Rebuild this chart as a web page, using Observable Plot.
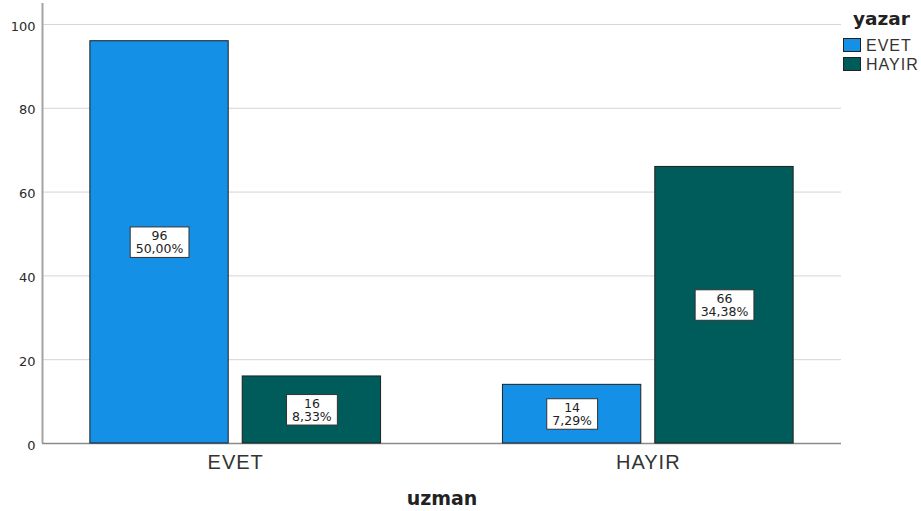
<!DOCTYPE html>
<html><head><meta charset="utf-8">
<script src="https://cdn.jsdelivr.net/npm/d3@7"></script>
<script src="https://cdn.jsdelivr.net/npm/@observablehq/plot@0.6"></script>
<style>
body{margin:0;background:#fff}
#chart{position:relative;width:921px;height:511px;overflow:hidden;background:#fff}
#chart svg{position:absolute;left:0;top:0}
</style></head><body><div id="chart"></div>
<script>
// ---- data ----
const uzman = ["EVET", "HAYIR"];            // x categories
const yazar = ["EVET", "HAYIR"];            // series
const yazarEvetCounts = [96, 14];           // yazar = EVET, per uzman
const yazarHayirCounts = [16, 66];          // yazar = HAYIR, per uzman
const yTicks = [0, 20, 40, 60, 80, 100];
const colors = ["#1490E6", "#005C5A"];

const data = uzman.flatMap((u, i) => [
  {uzman: u, yazar: yazar[0], count: yazarEvetCounts[i]},
  {uzman: u, yazar: yazar[1], count: yazarHayirCounts[i]}
]);
const total = d3.sum(data, d => d.count);
const pct = d => (d.count / total * 100).toFixed(2).replace(".", ",") + "%";

const W = 921, H = 511;
const M = {top: 3, right: 80, bottom: 68, left: 42};
const yDomain = [0, 105];
const chart = document.getElementById("chart");

// ---- base layer: grid, y axis, axis lines, x title ----
const base = Plot.plot({
  width: W, height: H,
  marginTop: M.top, marginRight: M.right, marginBottom: M.bottom, marginLeft: M.left,
  style: {background: "transparent", overflow: "visible"},
  x: {domain: [0, 1], axis: null},
  y: {domain: yDomain, axis: null},
  marks: [
    Plot.gridY(yTicks, {stroke: "#d4d4d4", strokeOpacity: 1, strokeWidth: 1}),
    Plot.axisY(yTicks, {tickSize: 0, tickPadding: 7, fontSize: 13, fontFamily: "DejaVu Sans", fill: "#2a2a2a", dy: 2, label: null}),
    Plot.ruleX([0], {stroke: "#a3a3a3", strokeWidth: 2}),
    Plot.ruleY([0], {stroke: "#8a8a8a", strokeWidth: 1.5}),
    Plot.text(["uzman"], {frameAnchor: "bottom", lineAnchor: "bottom", dy: 61, fontSize: 19, fontWeight: "bold", fontFamily: "DejaVu Sans", fill: "#222"})
  ]
});
chart.appendChild(base);

// ---- overlay: grouped bars via facets ----
const over = Plot.plot({
  width: W, height: H,
  marginTop: M.top, marginRight: M.right, marginBottom: M.bottom, marginLeft: M.left,
  style: {background: "transparent", overflow: "visible", fontFamily: "Liberation Sans, Arial, sans-serif", fontSize: "20px", color: "#333"},
  fx: {domain: uzman, paddingInner: 0.2954, paddingOuter: 0.116, round: false, axis: "bottom", tickSize: 0, tickPadding: 11, label: null},
  x: {domain: yazar, paddingInner: 0.092, paddingOuter: 0, round: false, axis: null},
  y: {domain: yDomain, axis: null},
  color: {domain: yazar, range: colors},
  marks: [
    Plot.barY(data, {fx: "uzman", x: "yazar", y: "count", fill: "yazar", stroke: "#1f1f1f", strokeWidth: 1}),
    Plot.text(data, {fx: "uzman", x: "yazar", y: d => d.count / 2, text: d => `${d.count}\n${pct(d)}`,
      fontSize: 12.5, fontFamily: "DejaVu Sans", lineHeight: 1.08, fill: "#222"})
  ]
});
chart.appendChild(over);

// wider x tick labels
over.querySelectorAll('g[aria-label^="fx-axis"] text').forEach(t => t.setAttribute("letter-spacing", "1"));

// label boxes behind the value labels
over.querySelectorAll('g[aria-label="text"] text').forEach(t => {
  const b = t.getBBox();
  const r = document.createElementNS("http://www.w3.org/2000/svg", "rect");
  r.setAttribute("x", b.x - 5.5);
  r.setAttribute("y", b.y - 1);
  r.setAttribute("width", b.width + 11);
  r.setAttribute("height", b.height + 2);
  r.setAttribute("fill", "#fff");
  r.setAttribute("stroke", "#333");
  r.setAttribute("stroke-width", 1);
  if (t.getAttribute("transform")) r.setAttribute("transform", t.getAttribute("transform"));
  t.parentNode.insertBefore(r, t);
});

// ---- legend ----
const leg = d3.create("svg").attr("width", W).attr("height", H);
leg.append("text").attr("x", 853).attr("y", 25)
  .attr("font-family", "DejaVu Sans").attr("font-weight", "bold").attr("font-size", 18.5).attr("fill", "#222")
  .text("yazar");
yazar.forEach((k, i) => {
  const y0 = 38 + i * 19;
  leg.append("rect").attr("x", 843.5).attr("y", y0 + 0.5).attr("width", 17).attr("height", 13)
    .attr("fill", colors[i]).attr("stroke", "#222");
  leg.append("text").attr("x", 866).attr("y", y0 + 13)
    .attr("font-family", "Liberation Sans, Arial").attr("font-size", 16).attr("letter-spacing", 1)
    .attr("fill", "#333").text(k);
});
chart.appendChild(leg.node());
</script></body></html>
